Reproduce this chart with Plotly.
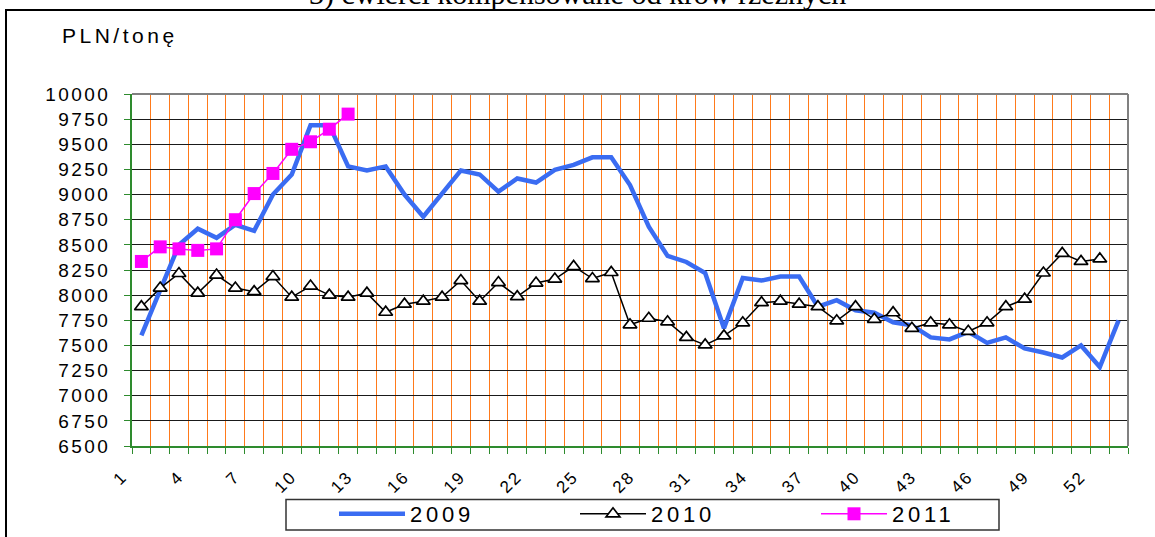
import plotly.graph_objects as go

# ---------------- data ----------------
weeks_2009 = list(range(1, 54))
price_2009 = [7600, 8050, 8500, 8660, 8570, 8700, 8640, 9000, 9200, 9690,
              9690, 9280, 9240, 9280, 9000, 8780, 9010, 9240, 9200, 9030,
              9160, 9120, 9245, 9295, 9370, 9370, 9095, 8680, 8390, 8330,
              8220, 7670, 8170, 8145, 8185, 8185, 7885, 7950, 7850, 7825,
              7730, 7700, 7580, 7560, 7635, 7525, 7580, 7470, 7430, 7380,
              7500, 7285, 7750]

weeks_2010 = list(range(1, 53))
price_2010 = [7885, 8070, 8215, 8020, 8200, 8070, 8035, 8185, 7980, 8090,
              8000, 7980, 8020, 7830, 7910, 7940, 7980, 8145, 7940, 8125,
              7985, 8120, 8160, 8285, 8165, 8225, 7705, 7770, 7735, 7580,
              7505, 7595, 7725, 7925, 7940, 7910, 7885, 7745, 7885, 7760,
              7825, 7670, 7725, 7705, 7640, 7725, 7885, 7960, 8220, 8415,
              8335, 8360]

weeks_2011 = list(range(1, 13))
price_2011 = [8335, 8480, 8460, 8445, 8460, 8750, 9010, 9210, 9450, 9525,
              9650, 9800]

x_tick_vals = [1, 4, 7, 10, 13, 16, 19, 22, 25, 28, 31, 34, 37, 40, 43, 46, 49, 52]
x_tick_text = ["1", "4", "7", "10", "13", "16", "19", "22", "25", "28", "31",
               "34", "37", "40", "43", "46", "49", "52"]
y_tick_vals = [6500, 6750, 7000, 7250, 7500, 7750, 8000, 8250, 8500, 8750,
               9000, 9250, 9500, 9750, 10000]
y_tick_text = ["6500", "6750", "7000", "7250", "7500", "7750", "8000", "8250",
               "8500", "8750", "9000", "9250", "9500", "9750", "10000"]

series_names = ["2009", "2010", "2011"]
unit_label = "PLN/tonę"
title_text = "3) ćwierci kompensowane od krów rzeźnych"

# ---------------- style ----------------
FONT = "Arial, Liberation Sans, sans-serif"
GREEN = "#2E8B2E"
ORANGE = "#FF7A1A"
BLUE = "#3A6CF2"


def spaced(t, px):
    return f'<span style="letter-spacing:{px}px">{t}</span>'


# plot area (page pixels): left 132, right 1128, top 94, bottom 446
def px_x(p):
    return (p - 132) / 996


def px_y(p):
    return (446 - p) / 352


fig = go.Figure()
fig.add_trace(go.Scatter(
    x=weeks_2009, y=price_2009, name=spaced(series_names[0], 3.8), mode="lines",
    line=dict(color=BLUE, width=4.5)))
fig.add_trace(go.Scatter(
    x=weeks_2010, y=price_2010, name=spaced(series_names[1], 3.8), mode="lines+markers",
    line=dict(color="black", width=1.5),
    marker=dict(symbol="triangle-up", size=12, color="white",
                line=dict(color="black", width=1.7))))
fig.add_trace(go.Scatter(
    x=weeks_2011, y=price_2011, name=spaced(series_names[2], 3.8), mode="lines+markers",
    line=dict(color="#FF00FF", width=1.5),
    marker=dict(symbol="square", size=13, color="#FF00FF",
                line=dict(color="#FF00FF", width=0))))

fig.update_layout(
    width=1155, height=537,
    margin=dict(l=132, r=27, t=94, b=91, autoexpand=False),
    paper_bgcolor="white", plot_bgcolor="white",
    font=dict(family=FONT, color="black"),
    showlegend=True,
    legend=dict(orientation="h", x=px_x(334), xanchor="left",
                y=px_y(514), yanchor="middle",
                bgcolor="rgba(0,0,0,0)", borderwidth=0,
                font=dict(family=FONT, size=22, color="black"),
                itemwidth=66, entrywidth=160, entrywidthmode="pixels",
                traceorder="normal"),
    xaxis=dict(
        range=[0.5, 53.5], tickmode="array", tickvals=x_tick_vals,
        ticktext=[spaced(t, 2) for t in x_tick_text],
        tickangle=-45, ticks="", showgrid=False, zeroline=False, automargin=False,
        tickfont=dict(family=FONT, size=17, color="black"),
        ticklabelstandoff=12, ticklabelshift=-19,
        showline=True, linecolor=GREEN, linewidth=2,
        minor=dict(tickmode="linear", tick0=0.5, dtick=1, ticks="outside",
                   ticklen=6, tickcolor=GREEN, tickwidth=1,
                   showgrid=True, gridcolor=ORANGE, gridwidth=1)),
    yaxis=dict(
        range=[6500, 10000], tickmode="array", tickvals=y_tick_vals,
        ticktext=[spaced(t, 2.4) for t in y_tick_text],
        ticks="outside", ticklen=6, tickcolor=GREEN, tickwidth=1,
        showgrid=True, gridcolor="#1a1a1a", gridwidth=1, zeroline=False, automargin=False,
        tickfont=dict(family=FONT, size=19, color="black"),
        ticklabelstandoff=10,
        showline=True, linecolor=GREEN, linewidth=2),
)

shapes = [
    # outer frame
    dict(type="rect", xref="paper", yref="paper", x0=px_x(6), x1=px_x(1175), y0=px_y(560), y1=px_y(10),
         line=dict(color="black", width=2), layer="below"),
    # plot area top & right border
    dict(type="line", xref="paper", yref="paper", x0=0, x1=1, y0=1, y1=1,
         line=dict(color="#808080", width=2), layer="above"),
    dict(type="line", xref="paper", yref="paper", x0=1, x1=1, y0=0, y1=1,
         line=dict(color="#808080", width=2), layer="above"),
    # legend box
    dict(type="rect", xref="paper", yref="paper", x0=px_x(286), x1=px_x(999), y0=px_y(530), y1=px_y(499.5),
         line=dict(color="#333333", width=1.5), layer="above"),
]
fig.update_layout(shapes=shapes)

fig.add_annotation(xref="paper", yref="paper", x=px_x(577), y=px_y(13),
                   xanchor="center", yanchor="bottom", showarrow=False,
                   text=title_text, font=dict(family="Liberation Serif, Times New Roman, serif",
                                              size=30, color="black"))
fig.add_annotation(xref="paper", yref="paper", x=px_x(60), y=px_y(36),
                   xanchor="left", yanchor="middle", showarrow=False,
                   text=spaced(unit_label, 3.5), font=dict(family=FONT, size=21, color="black"))

fig.write_html("out.html", config={"displayModeBar": False},
               post_script="document.body.style.margin='0';document.body.style.overflow='hidden';")
